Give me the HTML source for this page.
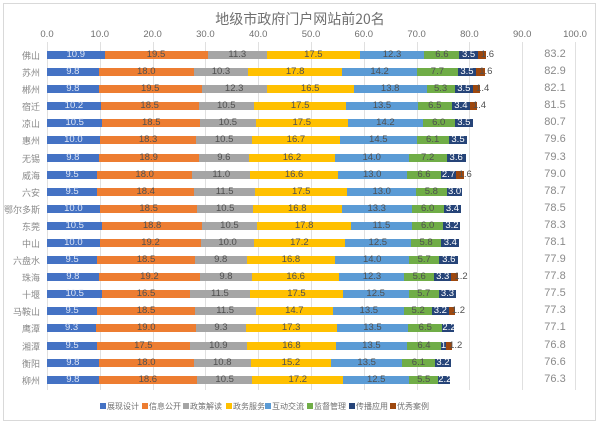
<!DOCTYPE html>
<html><head><meta charset="utf-8"><style>
*{margin:0;padding:0;box-sizing:border-box}
body{width:600px;height:424px;background:#fff;position:relative;overflow:hidden;font-family:"Liberation Sans","Noto Sans CJK SC",sans-serif}
.frame{position:absolute;left:3px;top:3px;width:593px;height:418px;border:1px solid #d9d9d9}
.title{position:absolute;top:9px;left:0;width:600px;text-align:center;font-size:14px;color:#707070}
.ax{position:absolute;top:29px;width:40px;margin-left:-20px;text-align:center;font-size:9.5px;color:#707070}
.g{position:absolute;top:42px;height:348px;width:1px;background:#e0e0e0}
.row{position:absolute;left:47px;height:8px;display:flex}
.row span{display:block;height:8px;width:calc(var(--v)*5.28px);font-size:9.5px;line-height:8px;text-align:center;color:#505050;white-space:nowrap;overflow:visible;position:relative}
.a{background:#4472c4;color:#dfe6f5!important}.b{background:#ed7d31}.c{background:#a5a5a5}.d{background:#ffc000}.e{background:#5b9bd5}.f{background:#70ad47}.h{background:#264478;color:#fff!important}.i{background:#9e480e}
.i em{position:absolute;left:3px;top:0;font-style:normal;color:#505050}
.cat{position:absolute;left:0;width:40px;text-align:right;font-size:9px;color:#8a8a8a;font-family:"Noto Sans CJK SC",sans-serif}
.tot{position:absolute;left:530px;width:50px;text-align:center;font-size:11px;color:#8a8a8a}
.leg{position:absolute;top:401px;font-size:8px;color:#707070;font-family:"Noto Sans CJK SC",sans-serif;white-space:nowrap}
.leg i{display:inline-block;width:6px;height:6px;margin-right:1px;vertical-align:0px}
</style></head><body>
<div class="frame"></div>
<div class="title" style="font-family:'Noto Sans CJK SC',sans-serif">地级市政府门户网站前20名</div>
<div class="ax" style="left:47px">0.0</div><div class="ax" style="left:99.8px">10.0</div><div class="ax" style="left:152.6px">20.0</div><div class="ax" style="left:205.4px">30.0</div><div class="ax" style="left:258.2px">40.0</div><div class="ax" style="left:311px">50.0</div><div class="ax" style="left:363.8px">60.0</div><div class="ax" style="left:416.6px">70.0</div><div class="ax" style="left:469.4px">80.0</div><div class="ax" style="left:522.2px">90.0</div><div class="ax" style="left:575px">100.0</div>
<div class="g" style="left:47px"></div><div class="g" style="left:99.8px"></div><div class="g" style="left:152.6px"></div><div class="g" style="left:205.4px"></div><div class="g" style="left:258.2px"></div><div class="g" style="left:311px"></div><div class="g" style="left:363.8px"></div><div class="g" style="left:416.6px"></div><div class="g" style="left:469.4px"></div><div class="g" style="left:522.2px"></div><div class="g" style="left:575px"></div>

<div class="cat" style="top:49px">佛山</div><div class="tot" style="top:48px">83.2</div>
<div class="row" style="top:51px"><span class="a" style="--v:10.9">10.9</span><span class="b" style="--v:19.5">19.5</span><span class="c" style="--v:11.3">11.3</span><span class="d" style="--v:17.5">17.5</span><span class="e" style="--v:12.3">12.3</span><span class="f" style="--v:6.6">6.6</span><span class="h" style="--v:3.5">3.5</span><span class="i" style="--v:1.6"><em>1.6</em></span></div>
<div class="cat" style="top:66px">苏州</div><div class="tot" style="top:65px">82.9</div>
<div class="row" style="top:68px"><span class="a" style="--v:9.8">9.8</span><span class="b" style="--v:18.0">18.0</span><span class="c" style="--v:10.3">10.3</span><span class="d" style="--v:17.8">17.8</span><span class="e" style="--v:14.2">14.2</span><span class="f" style="--v:7.7">7.7</span><span class="h" style="--v:3.5">3.5</span><span class="i" style="--v:1.6"><em>1.6</em></span></div>
<div class="cat" style="top:83px">郴州</div><div class="tot" style="top:82px">82.1</div>
<div class="row" style="top:85px"><span class="a" style="--v:9.8">9.8</span><span class="b" style="--v:19.5">19.5</span><span class="c" style="--v:12.3">12.3</span><span class="d" style="--v:16.5">16.5</span><span class="e" style="--v:13.8">13.8</span><span class="f" style="--v:5.3">5.3</span><span class="h" style="--v:3.5">3.5</span><span class="i" style="--v:1.4"><em>1.4</em></span></div>
<div class="cat" style="top:100px">宿迁</div><div class="tot" style="top:99px">81.5</div>
<div class="row" style="top:102px"><span class="a" style="--v:10.2">10.2</span><span class="b" style="--v:18.5">18.5</span><span class="c" style="--v:10.5">10.5</span><span class="d" style="--v:17.5">17.5</span><span class="e" style="--v:13.5">13.5</span><span class="f" style="--v:6.5">6.5</span><span class="h" style="--v:3.4">3.4</span><span class="i" style="--v:1.4"><em>1.4</em></span></div>
<div class="cat" style="top:117px">凉山</div><div class="tot" style="top:116px">80.7</div>
<div class="row" style="top:119px"><span class="a" style="--v:10.5">10.5</span><span class="b" style="--v:18.5">18.5</span><span class="c" style="--v:10.5">10.5</span><span class="d" style="--v:17.5">17.5</span><span class="e" style="--v:14.2">14.2</span><span class="f" style="--v:6.0">6.0</span><span class="h" style="--v:3.5">3.5</span></div>
<div class="cat" style="top:134px">惠州</div><div class="tot" style="top:133px">79.6</div>
<div class="row" style="top:136px"><span class="a" style="--v:10.0">10.0</span><span class="b" style="--v:18.3">18.3</span><span class="c" style="--v:10.5">10.5</span><span class="d" style="--v:16.7">16.7</span><span class="e" style="--v:14.5">14.5</span><span class="f" style="--v:6.1">6.1</span><span class="h" style="--v:3.5">3.5</span></div>
<div class="cat" style="top:152px">无锡</div><div class="tot" style="top:151px">79.3</div>
<div class="row" style="top:154px"><span class="a" style="--v:9.8">9.8</span><span class="b" style="--v:18.9">18.9</span><span class="c" style="--v:9.6">9.6</span><span class="d" style="--v:16.2">16.2</span><span class="e" style="--v:14.0">14.0</span><span class="f" style="--v:7.2">7.2</span><span class="h" style="--v:3.6">3.6</span></div>
<div class="cat" style="top:169px">威海</div><div class="tot" style="top:168px">79.0</div>
<div class="row" style="top:171px"><span class="a" style="--v:9.5">9.5</span><span class="b" style="--v:18.0">18.0</span><span class="c" style="--v:11.0">11.0</span><span class="d" style="--v:16.6">16.6</span><span class="e" style="--v:13.0">13.0</span><span class="f" style="--v:6.6">6.6</span><span class="h" style="--v:2.7">2.7</span><span class="i" style="--v:1.6"><em>1.6</em></span></div>
<div class="cat" style="top:186px">六安</div><div class="tot" style="top:185px">78.7</div>
<div class="row" style="top:188px"><span class="a" style="--v:9.5">9.5</span><span class="b" style="--v:18.4">18.4</span><span class="c" style="--v:11.5">11.5</span><span class="d" style="--v:17.5">17.5</span><span class="e" style="--v:13.0">13.0</span><span class="f" style="--v:5.8">5.8</span><span class="h" style="--v:3.0">3.0</span></div>
<div class="cat" style="top:203px;left:-4px;width:44px">鄂尔多斯</div><div class="tot" style="top:202px">78.5</div>
<div class="row" style="top:205px"><span class="a" style="--v:10.0">10.0</span><span class="b" style="--v:18.5">18.5</span><span class="c" style="--v:10.5">10.5</span><span class="d" style="--v:16.8">16.8</span><span class="e" style="--v:13.3">13.3</span><span class="f" style="--v:6.0">6.0</span><span class="h" style="--v:3.4">3.4</span></div>
<div class="cat" style="top:220px">东莞</div><div class="tot" style="top:219px">78.3</div>
<div class="row" style="top:222px"><span class="a" style="--v:10.5">10.5</span><span class="b" style="--v:18.8">18.8</span><span class="c" style="--v:10.5">10.5</span><span class="d" style="--v:17.8">17.8</span><span class="e" style="--v:11.5">11.5</span><span class="f" style="--v:6.0">6.0</span><span class="h" style="--v:3.2">3.2</span></div>
<div class="cat" style="top:237px">中山</div><div class="tot" style="top:236px">78.1</div>
<div class="row" style="top:239px"><span class="a" style="--v:10.0">10.0</span><span class="b" style="--v:19.2">19.2</span><span class="c" style="--v:10.0">10.0</span><span class="d" style="--v:17.2">17.2</span><span class="e" style="--v:12.5">12.5</span><span class="f" style="--v:5.8">5.8</span><span class="h" style="--v:3.4">3.4</span></div>
<div class="cat" style="top:254px">六盘水</div><div class="tot" style="top:253px">77.9</div>
<div class="row" style="top:256px"><span class="a" style="--v:9.5">9.5</span><span class="b" style="--v:18.5">18.5</span><span class="c" style="--v:9.8">9.8</span><span class="d" style="--v:16.8">16.8</span><span class="e" style="--v:14.0">14.0</span><span class="f" style="--v:5.7">5.7</span><span class="h" style="--v:3.6">3.6</span></div>
<div class="cat" style="top:271px">珠海</div><div class="tot" style="top:270px">77.8</div>
<div class="row" style="top:273px"><span class="a" style="--v:9.8">9.8</span><span class="b" style="--v:19.2">19.2</span><span class="c" style="--v:9.8">9.8</span><span class="d" style="--v:16.6">16.6</span><span class="e" style="--v:12.3">12.3</span><span class="f" style="--v:5.6">5.6</span><span class="h" style="--v:3.3">3.3</span><span class="i" style="--v:1.2"><em>1.2</em></span></div>
<div class="cat" style="top:288px">十堰</div><div class="tot" style="top:287px">77.5</div>
<div class="row" style="top:290px"><span class="a" style="--v:10.5">10.5</span><span class="b" style="--v:16.5">16.5</span><span class="c" style="--v:11.5">11.5</span><span class="d" style="--v:17.5">17.5</span><span class="e" style="--v:12.5">12.5</span><span class="f" style="--v:5.7">5.7</span><span class="h" style="--v:3.3">3.3</span></div>
<div class="cat" style="top:305px">马鞍山</div><div class="tot" style="top:304px">77.3</div>
<div class="row" style="top:307px"><span class="a" style="--v:9.5">9.5</span><span class="b" style="--v:18.5">18.5</span><span class="c" style="--v:11.5">11.5</span><span class="d" style="--v:14.7">14.7</span><span class="e" style="--v:13.5">13.5</span><span class="f" style="--v:5.2">5.2</span><span class="h" style="--v:3.2">3.2</span><span class="i" style="--v:1.2"><em>1.2</em></span></div>
<div class="cat" style="top:322px">鹰潭</div><div class="tot" style="top:321px">77.1</div>
<div class="row" style="top:324px"><span class="a" style="--v:9.3">9.3</span><span class="b" style="--v:19.0">19.0</span><span class="c" style="--v:9.3">9.3</span><span class="d" style="--v:17.3">17.3</span><span class="e" style="--v:13.5">13.5</span><span class="f" style="--v:6.5">6.5</span><span class="h" style="--v:2.2">2.2</span></div>
<div class="cat" style="top:340px">湘潭</div><div class="tot" style="top:339px">76.8</div>
<div class="row" style="top:342px"><span class="a" style="--v:9.5">9.5</span><span class="b" style="--v:17.5">17.5</span><span class="c" style="--v:10.9">10.9</span><span class="d" style="--v:16.8">16.8</span><span class="e" style="--v:13.5">13.5</span><span class="f" style="--v:6.4">6.4</span><span class="h" style="--v:1.0">1.0</span><span class="i" style="--v:1.2"><em>1.2</em></span></div>
<div class="cat" style="top:357px">衡阳</div><div class="tot" style="top:356px">76.6</div>
<div class="row" style="top:359px"><span class="a" style="--v:9.8">9.8</span><span class="b" style="--v:18.0">18.0</span><span class="c" style="--v:10.8">10.8</span><span class="d" style="--v:15.2">15.2</span><span class="e" style="--v:13.5">13.5</span><span class="f" style="--v:6.1">6.1</span><span class="h" style="--v:3.2">3.2</span></div>
<div class="cat" style="top:374px">柳州</div><div class="tot" style="top:373px">76.3</div>
<div class="row" style="top:376px"><span class="a" style="--v:9.8">9.8</span><span class="b" style="--v:18.6">18.6</span><span class="c" style="--v:10.5">10.5</span><span class="d" style="--v:17.2">17.2</span><span class="e" style="--v:12.5">12.5</span><span class="f" style="--v:5.5">5.5</span><span class="h" style="--v:2.2">2.2</span></div>

<div class="leg" style="left:100px"><i style="background:#4472c4"></i>展现设计</div>
<div class="leg" style="left:142px"><i style="background:#ed7d31"></i>信息公开</div>
<div class="leg" style="left:183px"><i style="background:#a5a5a5"></i>政策解读</div>
<div class="leg" style="left:226px"><i style="background:#ffc000"></i>政务服务</div>
<div class="leg" style="left:265px"><i style="background:#5b9bd5"></i>互动交流</div>
<div class="leg" style="left:307px"><i style="background:#70ad47"></i>监督管理</div>
<div class="leg" style="left:349px"><i style="background:#264478"></i>传播应用</div>
<div class="leg" style="left:390px"><i style="background:#9e480e"></i>优秀案例</div>
</body></html>
